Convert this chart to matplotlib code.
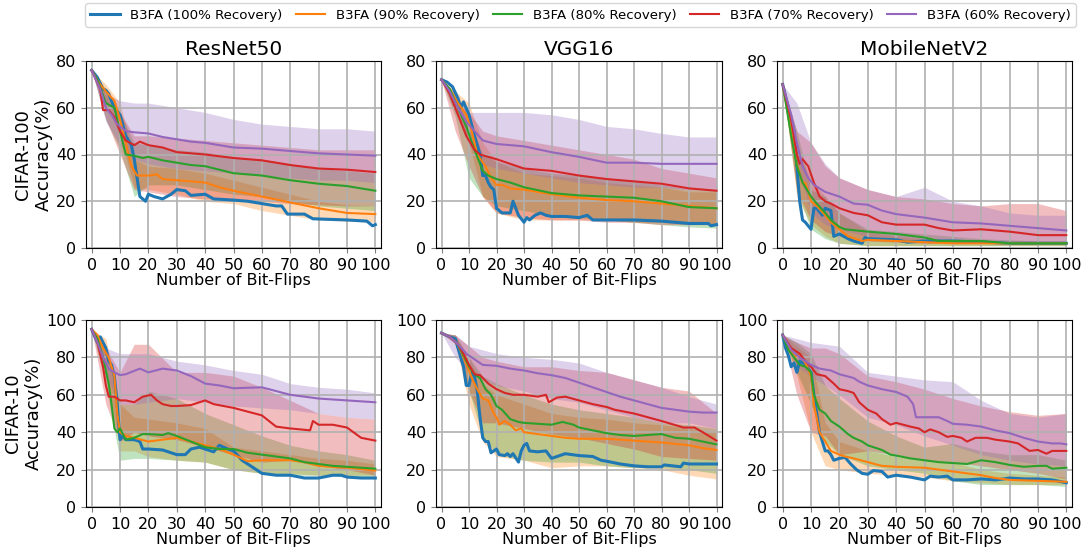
import matplotlib
matplotlib.use("Agg")
import matplotlib.pyplot as plt
import numpy as np

# ---------------------------------------------------------------
# data
# ---------------------------------------------------------------

LEVELS = [100, 90, 80, 70, 60]
LABELS = [f"B3FA ({lv}% Recovery)" for lv in LEVELS]
COLORS = ["#1f77b4", "#ff7f0e", "#2ca02c", "#d62728", "#9467bd"]
MODELS = ["ResNet50", "VGG16", "MobileNetV2"]
DATASETS = ["CIFAR-100", "CIFAR-10"]

# x positions for the shaded bands
BAND_X = [0, 5, 10, 15, 20, 30, 40, 50, 60, 70, 80, 90, 100]

# mean curves: list of (bit flips, accuracy)
R50_C100 = {
    100: [(0, 76), (2, 73), (4, 68), (5, 67.5), (6, 66), (8, 60), (10, 57), (12, 48), (13, 46),
          (14, 44), (15, 38), (16, 30), (17, 22), (19, 20), (20, 23), (22, 22), (25, 21),
          (28, 23), (30, 25), (33, 24.5), (35, 22.5), (40, 23), (43, 21), (50, 20.5), (55, 20),
          (60, 19), (65, 18), (67, 18), (69, 14.5), (75, 14.5), (78, 12.5), (90, 12),
          (97, 11.5), (99, 9.5), (100, 10)],
    90: [(0, 76), (3, 70), (5, 67), (8, 63), (10, 55), (12, 45), (14, 35), (16, 31), (18, 31),
         (20, 31), (23, 31.5), (25, 29.5), (30, 29), (35, 28.5), (40, 28), (45, 26), (50, 24.5),
         (60, 22), (70, 19.5), (80, 17), (90, 15), (100, 14.5)],
    80: [(0, 76), (2, 72), (5, 62), (8, 60), (10, 50), (12, 40), (15, 39.5), (18, 38.5),
         (20, 39), (25, 37.5), (30, 36.5), (35, 35.5), (40, 35), (50, 32), (60, 31), (70, 29),
         (80, 27.5), (90, 26.5), (100, 24.5)],
    70: [(0, 76), (3, 68), (4, 59), (6, 59), (8, 56), (10, 50), (12, 46), (15, 44),
         (17, 45.5), (20, 44), (25, 43), (30, 41), (35, 40.5), (40, 40), (50, 38.5),
         (60, 37.5), (70, 35.5), (80, 34), (90, 33.5), (100, 32.5)],
    60: [(0, 76), (3, 68), (5, 60), (7, 57), (9, 53), (12, 50), (15, 49.5), (20, 49),
         (25, 47.5), (30, 46.5), (35, 45.5), (40, 45), (50, 43), (60, 42.5), (70, 41.5),
         (80, 40.5), (90, 40), (100, 39.5)],
}
R50_C100_BAND = {
    90: ([76, 62, 48, 26, 25, 23, 20, 19, 16, 14, 12, 11.5, 11],
         [76, 70, 62, 38, 35, 34, 32, 29, 26, 23, 20, 18.5, 18]),
    80: ([76, 55, 42, 22, 27, 27, 25, 23, 22, 20, 18, 17, 16],
         [76, 68, 58, 45, 44, 42, 41, 39, 38, 36, 34, 33, 32]),
    70: ([76, 55, 40, 25, 24, 22, 21, 20, 20, 19, 18.5, 18, 18],
         [76, 66, 58, 48, 48, 47, 46, 45, 44, 43, 42, 42, 42]),
    60: ([76, 54, 44, 38, 36, 34, 33, 32, 31, 30, 29, 29, 28],
         [76, 66, 63, 62, 62, 60, 58, 55, 53, 52, 51, 51, 50]),
}

VGG_C100 = {
    100: [(0, 72), (2, 71), (4, 69), (6, 64), (7, 60), (8, 62.5), (10, 57), (12, 48), (14, 40),
          (15, 31), (16, 31), (17, 28), (18, 26), (19, 25), (20, 17), (22, 15), (25, 15),
          (26, 20), (28, 14), (30, 11), (31, 13), (32, 12), (34, 14), (36, 15), (38, 14),
          (40, 13.5), (45, 13.5), (50, 13), (53, 14), (55, 12), (60, 12), (70, 12), (80, 11.5),
          (85, 11), (90, 10.5), (97, 10.5), (98, 9.5), (100, 10)],
    90: [(0, 72), (3, 68), (6, 62), (9, 57), (11, 50), (13, 40), (16, 35), (18, 30), (20, 27),
         (22, 27), (25, 25.5), (30, 25), (40, 23), (50, 21.5), (60, 20.5), (70, 20), (80, 19),
         (90, 18), (100, 17)],
    80: [(0, 72), (3, 68), (6, 60), (9, 52), (12, 42), (15, 33), (17, 31), (20, 29.5),
         (25, 28), (30, 26), (40, 23.5), (50, 22.5), (60, 22), (70, 21.5), (80, 20), (90, 17.5),
         (100, 17)],
    70: [(0, 72), (3, 66), (6, 57), (9, 48), (12, 42), (14, 40), (20, 38), (25, 36), (30, 34),
         (40, 33), (50, 31), (60, 29.5), (70, 28.5), (80, 27.5), (90, 25.5), (100, 24.5)],
    60: [(0, 72), (3, 67), (6, 60), (9, 54), (12, 50), (15, 46), (20, 44.5), (30, 43.5),
         (40, 41), (50, 39), (60, 36.5), (70, 36.5), (80, 36), (90, 36), (100, 36)],
}
VGG_C100_BAND = {
    90: ([72, 58, 45, 22, 15, 12, 12, 12, 12, 11, 11, 10, 10],
         [72, 67, 62, 45, 37, 32, 31, 30, 28, 27, 26, 24, 24]),
    80: ([72, 56, 30, 22, 18, 16, 14, 13, 12, 11, 10, 9, 8.5],
         [72, 66, 55, 40, 37, 34, 32, 31, 30, 29, 27, 25, 25]),
    70: ([72, 50, 35, 22, 15, 13, 12, 12, 11, 11, 10, 10, 10],
         [72, 64, 58, 50, 48, 46, 44, 42, 40, 38, 34, 32, 30]),
    60: ([72, 58, 44, 36, 34, 32, 30, 28, 27, 26, 26, 25, 25],
         [72, 66, 58, 58, 58, 58, 57, 55, 52, 51, 49, 47.5, 47.5]),
}

MOB_C100 = {
    100: [(0, 70), (2, 60), (4, 50), (5, 35), (6, 20), (7, 12), (8, 11), (10, 8), (11, 17),
          (12, 17), (14, 14), (15, 17), (17, 16), (18, 5), (20, 6), (23, 4), (25, 3), (28, 2),
          (29, 4.5), (30, 4), (40, 3.5), (44, 2.5), (50, 3), (60, 3), (70, 2.5), (80, 2),
          (100, 2)],
    90: [(0, 70), (3, 50), (5, 36), (7, 28), (8, 28), (9, 24), (10, 20), (12, 18), (15, 14),
         (17, 11), (20, 8), (23, 5), (28, 3), (30, 3.5), (40, 3), (50, 2.5), (60, 2), (100, 2)],
    80: [(0, 70), (3, 48), (5, 35), (7, 28), (10, 22), (12, 19), (15, 15), (17, 12), (20, 9),
         (22, 8), (30, 7), (40, 6), (50, 4.5), (55, 3), (70, 3), (80, 2), (100, 2)],
    70: [(0, 70), (3, 55), (5, 40), (6, 36), (7, 38), (9, 35), (11, 28), (13, 22), (15, 20),
         (17, 19), (20, 17), (25, 15), (30, 14), (35, 11), (40, 10), (50, 10), (55, 8.5),
         (60, 7.5), (70, 8), (80, 7), (90, 5.5), (100, 5.5)],
    60: [(0, 70), (3, 57), (5, 45), (7, 35), (9, 30), (11, 27), (15, 24), (20, 22), (25, 19),
         (30, 18.5), (35, 16), (40, 14.5), (50, 13), (60, 11), (70, 10.5), (80, 9.5),
         (90, 8.5), (100, 7.5)],
}
MOB_C100_BAND = {
    90: ([70, 22, 10, 5, 2, 1, 1, 1, 1, 1, 1, 1, 1],
         [70, 42, 30, 22, 15, 7, 5, 4, 3.5, 3, 3, 3, 3]),
    80: ([70, 24, 8, 4, 2, 1, 1, 1, 1, 1, 1, 1, 1],
         [70, 50, 25, 22, 15, 8, 7, 6, 5, 4, 3.5, 3, 3]),
    70: ([70, 24, 12, 7, 5, 3, 2.5, 2, 2, 2, 2, 2, 2],
         [70, 50, 45, 35, 30, 25, 22, 21, 19, 18, 19, 19, 16]),
    60: ([70, 35, 15, 10, 8, 5, 4, 3, 3, 3, 3, 2.5, 2.5],
         [70, 62, 45, 36, 30, 25, 22, 26, 20, 18, 15, 14, 14]),
}

R50_C10 = {
    100: [(0, 95), (2, 88), (3, 91), (5, 85), (6, 78), (7, 76), (8, 70), (9, 55), (10, 36),
          (11, 38), (12, 36), (15, 36), (17, 35), (18, 31), (20, 31), (25, 30.5), (30, 28),
          (33, 28), (35, 31), (38, 32), (40, 31), (43, 29.5), (45, 33), (48, 31), (50, 30),
          (53, 25), (56, 22), (60, 18), (65, 17), (70, 17), (75, 15.5), (80, 15.5), (85, 17),
          (88, 17), (90, 16), (95, 15.5), (100, 15.5)],
    90: [(0, 95), (2, 92), (4, 85), (6, 80), (8, 70), (9, 50), (10, 40), (12, 38), (15, 37),
         (20, 35), (25, 36), (30, 37), (35, 35), (40, 33), (45, 31), (50, 28), (55, 24.5),
         (60, 25), (65, 25), (70, 25), (75, 24), (80, 22), (90, 21), (100, 19.5)],
    80: [(0, 95), (2, 90), (4, 80), (6, 66), (7, 55), (8, 42), (9, 40), (10, 42), (12, 36),
         (15, 37), (18, 39), (20, 39), (25, 38.5), (27, 39.5), (30, 38), (35, 35), (40, 32),
         (45, 31), (50, 31), (55, 29), (60, 28), (65, 27), (70, 26), (75, 24), (80, 23),
         (85, 22), (90, 21.5), (100, 20.5)],
    70: [(0, 95), (2, 88), (4, 75), (5, 65), (6, 59), (8, 59), (10, 57), (12, 57), (15, 56),
         (18, 59), (21, 60), (23, 57), (25, 55), (28, 54), (30, 54), (35, 54.5), (40, 57),
         (43, 55), (50, 53), (55, 51), (60, 49), (65, 43), (70, 42), (77, 41), (78, 46),
         (80, 44), (85, 44), (90, 42.5), (95, 37), (100, 35.5)],
    60: [(0, 95), (2, 88), (4, 80), (6, 74), (8, 72), (10, 70.5), (12, 71), (17, 74),
         (20, 72), (25, 74), (30, 73), (35, 70), (40, 66), (45, 65), (50, 63.5), (60, 64),
         (65, 62), (70, 60), (75, 59), (80, 58), (90, 57), (100, 56)],
}
R50_C10_BAND = {
    90: ([95, 75, 30, 30, 27, 25, 24, 20, 18, 18, 17, 17, 17],
         [95, 90, 55, 48, 47, 45, 42, 32, 30, 28, 26, 25, 23]),
    80: ([95, 65, 25, 26, 26, 25, 24, 20, 18, 17, 17, 16, 16],
         [95, 85, 55, 55, 62, 58, 50, 44, 38, 33, 30, 28, 25]),
    70: ([95, 55, 35, 40, 38, 36, 32, 28, 24, 25, 22, 20, 17],
         [95, 85, 72, 87, 87, 72, 72, 70, 64, 57, 50, 48, 47]),
    60: ([95, 70, 55, 55, 56, 58, 56, 54, 53, 52, 50, 48, 47],
         [95, 85, 82, 82, 82, 78, 76, 73, 71, 66, 64, 63, 61]),
}

VGG_C10 = {
    100: [(0, 93), (3, 91), (5, 90), (6, 85), (7, 80), (8, 75), (9, 65), (10, 65), (11, 72),
          (12, 70), (13, 62), (14, 48), (15, 37), (16, 35), (17, 35), (18, 29), (19, 30),
          (20, 31), (21, 28), (23, 27.5), (24, 28.5), (25, 27), (26, 28.5), (28, 24), (29, 30),
          (30, 33), (31, 34), (32, 30), (35, 29.5), (38, 30), (40, 26), (42, 27), (45, 28.5),
          (50, 27.5), (55, 27), (58, 25), (60, 24.5), (65, 23), (70, 22), (75, 21.5),
          (80, 21.5), (81, 22.5), (87, 21.5), (88, 23.5), (90, 23), (100, 23)],
    90: [(0, 93), (3, 91), (6, 87), (8, 80), (10, 73), (11, 69), (13, 63), (15, 58), (17, 57),
         (19, 50), (20, 48), (21, 44), (23, 46), (25, 44), (27, 41), (29, 42), (30, 40),
         (35, 39), (40, 38), (45, 37), (50, 36.5), (60, 36.5), (65, 36), (70, 35.5),
         (80, 34.5), (90, 33), (95, 31.5), (100, 30.5)],
    80: [(0, 93), (3, 91), (6, 87), (8, 81), (10, 75), (12, 71), (14, 69), (16, 63), (18, 60),
         (20, 54), (22, 52), (25, 47), (28, 45.5), (30, 45), (35, 44.5), (40, 44), (44, 45.5),
         (48, 44), (50, 42.5), (55, 41), (60, 39.5), (65, 38.5), (70, 38), (75, 38.5),
         (80, 39), (85, 37), (90, 36.5), (95, 35), (100, 33.5)],
    70: [(0, 93), (3, 91), (6, 87), (8, 82), (10, 76), (12, 71), (14, 70.5), (17, 66),
         (20, 63), (23, 61), (26, 60), (30, 60), (35, 59), (38, 60), (39, 56), (42, 58.5),
         (45, 59), (50, 57), (55, 55), (60, 53.5), (63, 52), (70, 50), (75, 48), (80, 46),
         (88, 42.5), (92, 42.5), (95, 40), (100, 35.5)],
    60: [(0, 93), (3, 91), (6, 87), (9, 82), (12, 79), (15, 76), (20, 75.5), (25, 74),
         (30, 73), (35, 71.5), (40, 70.5), (45, 69), (50, 66.5), (55, 64), (60, 61.5),
         (65, 59), (70, 57), (75, 55), (80, 53), (85, 52), (90, 51), (95, 50.5), (100, 50.5)],
}
VGG_C10_BAND = {
    90: ([93, 88, 55, 35, 27, 25, 21, 22, 22, 21, 20, 17, 15],
         [93, 92, 80, 66, 60, 55, 50, 48, 47, 45, 44, 42, 40]),
    80: ([93, 88, 62, 38, 28, 25, 24, 24, 22, 21, 21, 20, 18],
         [93, 92, 80, 70, 66, 60, 55, 52, 50, 48, 45, 44, 42]),
    70: ([93, 87, 62, 45, 45, 42, 39, 37, 34, 31, 27, 26, 25],
         [93, 92, 86, 80, 78, 75, 75, 73, 72, 68, 64, 62, 50]),
    60: ([93, 80, 72, 68, 65, 62, 58, 56, 52, 48, 45, 45, 42],
         [93, 92, 86, 84, 82, 80, 79, 77, 72, 68, 64, 59, 55]),
}

MOB_C10 = {
    100: [(0, 92), (1, 85), (2, 81), (3, 75), (4, 77), (5, 72), (6, 78), (8, 76), (10, 72),
          (11, 60), (12, 50), (13, 40), (15, 30), (16, 30), (17, 28), (18, 25), (20, 26),
          (22, 26.5), (24, 23), (26, 20), (28, 18), (30, 17.5), (32, 19.5), (35, 19), (37, 16),
          (40, 17), (45, 16), (50, 14.5), (52, 16.5), (55, 16), (58, 16.5), (60, 14.5),
          (65, 14.5), (70, 15), (75, 14.5), (78, 15), (80, 15.5), (85, 15), (90, 15),
          (95, 14.5), (100, 13)],
    90: [(0, 92), (2, 86), (4, 80), (6, 82), (8, 77), (10, 70), (11, 55), (13, 40), (15, 35),
         (17, 30), (20, 28), (22, 27), (25, 26), (30, 24), (35, 22), (40, 21.5), (50, 21),
         (55, 20), (60, 19), (65, 18), (70, 17), (75, 15.5), (80, 14.5), (90, 14), (100, 13.5)],
    80: [(0, 92), (2, 84), (4, 80), (6, 76), (8, 75), (10, 72), (11, 60), (13, 52), (15, 50),
         (17, 46), (20, 43), (23, 39), (25, 37), (28, 35), (30, 33), (35, 30.5), (38, 28),
         (40, 27.5), (45, 26), (50, 25), (55, 24), (60, 23.5), (65, 23), (70, 25), (75, 24),
         (80, 22.5), (85, 21.5), (90, 22), (93, 22), (95, 20.5), (100, 21)],
    70: [(0, 92), (3, 85), (6, 82), (8, 78), (10, 75), (12, 71), (15, 70), (18, 66), (20, 63),
         (23, 62), (25, 61), (27, 56), (30, 52), (33, 50), (35, 47), (38, 44), (40, 45),
         (45, 43), (48, 42), (50, 40), (52, 41.5), (55, 40), (58, 37.5), (60, 38), (63, 37),
         (65, 35), (68, 37), (72, 37), (75, 36), (80, 35), (83, 34), (87, 30), (90, 30.5),
         (93, 28.5), (95, 30), (100, 30)],
    60: [(0, 92), (3, 84), (6, 80), (8, 78), (10, 76), (13, 74), (17, 73), (20, 71), (25, 69),
         (27, 67), (30, 65), (35, 63), (40, 61.5), (44, 59), (46, 55), (47, 48), (50, 48),
         (55, 48), (58, 46), (60, 44.5), (65, 44), (70, 43), (75, 41), (80, 39.5), (85, 37),
         (90, 35), (95, 34), (98, 34), (100, 33.5)],
}
MOB_C10_BAND = {
    90: ([92, 70, 40, 22, 20, 18, 17, 16, 14, 13, 12, 12, 12],
         [92, 86, 80, 45, 35, 30, 27, 25, 24, 20, 18, 17, 16]),
    80: ([92, 72, 55, 35, 28, 22, 20, 18, 14, 12, 12, 12, 11],
         [92, 88, 82, 65, 58, 46, 38, 32, 34, 30, 28, 28, 25]),
    70: ([92, 60, 40, 38, 28, 30, 28, 25, 24, 22, 20, 18, 15],
         [92, 88, 85, 85, 82, 70, 67, 63, 58, 54, 51, 49, 50]),
    60: ([92, 75, 70, 65, 60, 48, 44, 38, 33, 28, 25, 23, 22],
         [92, 90, 88, 87, 86, 72, 70, 68, 67, 57, 50, 48, 50]),
}

PANELS = [
    [(R50_C100, R50_C100_BAND), (VGG_C100, VGG_C100_BAND), (MOB_C100, MOB_C100_BAND)],
    [(R50_C10, R50_C10_BAND), (VGG_C10, VGG_C10_BAND), (MOB_C10, MOB_C10_BAND)],
]
YMAX = [80, 100]

# ---------------------------------------------------------------
# figure
# ---------------------------------------------------------------

W, H = 1085, 548
fig = plt.figure(figsize=(W / 100, H / 100), dpi=100)

col_px = [(86, 381), (436, 722), (777, 1072)]
row_px = [(61, 248), (320, 507)]

handles = []
for r in range(2):
    for c in range(3):
        x0, x1 = col_px[c]
        y0, y1 = row_px[r]
        ax = fig.add_axes([x0 / W, 1 - y1 / H, (x1 - x0) / W, (y1 - y0) / H])
        means, bands = PANELS[r][c]
        for lv, col, lab in zip(LEVELS, COLORS, LABELS):
            if lv in bands:
                lo, hi = bands[lv]
                ax.fill_between(BAND_X, lo, hi, color=col, alpha=0.3, linewidth=0)
            xs, ys = zip(*means[lv])
            lw = 2.2 if lv == 100 else 1.5
            ln, = ax.plot(xs, ys, color=col, lw=lw, label=lab)
            if r == 0 and c == 0:
                handles.append(ln)

        ax.set_xlim(-2, 102)
        ax.set_ylim(0, YMAX[r])
        ax.set_xticks(np.arange(0, 101, 10))
        ax.set_yticks(np.arange(0, YMAX[r] + 1, 20))
        ax.tick_params(labelsize=11.5, color="0.5")
        ax.grid(True, color="#b0b0b0", linewidth=1.2)
        ax.set_xlabel("Number of Bit-Flips", fontsize=11.5, labelpad=0)
        if r == 0:
            ax.set_title(MODELS[c], fontsize=14.5, pad=4)
        if c == 0:
            ax.set_ylabel(f"{DATASETS[r]}\nAccuracy(%)", fontsize=13, labelpad=2)

fig.legend(handles=handles, loc="upper center", bbox_to_anchor=(0.535, 1.0),
           ncol=5, fontsize=9.6, handlelength=2.2, handletextpad=0.8,
           columnspacing=1.0, borderaxespad=0.25)

fig.savefig("out.png", dpi=100)
